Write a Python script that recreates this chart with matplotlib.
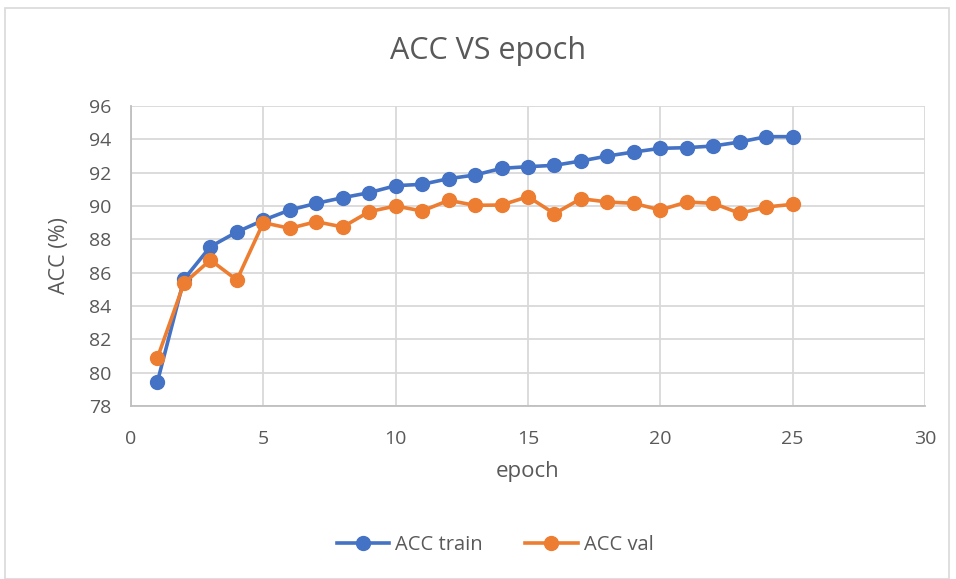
import matplotlib
matplotlib.use("Agg")
import matplotlib.pyplot as plt
from matplotlib.patches import Rectangle

epochs = list(range(1, 26))
acc_train = [79.46, 85.6, 87.56, 88.44, 89.15, 89.76, 90.16, 90.5, 90.8, 91.22,
             91.3, 91.64, 91.86, 92.26, 92.36, 92.44, 92.7, 93.0, 93.24, 93.46,
             93.5, 93.6, 93.84, 94.16, 94.16]
acc_val = [80.9, 85.36, 86.76, 85.56, 89.0, 88.66, 89.06, 88.74, 89.66, 90.0,
           89.7, 90.34, 90.04, 90.06, 90.56, 89.54, 90.44, 90.24, 90.16, 89.76,
           90.24, 90.16, 89.56, 89.94, 90.1]
xticks = [0, 5, 10, 15, 20, 25, 30]
yticks = [78, 80, 82, 84, 86, 88, 90, 92, 94, 96]

plt.rcParams['font.family'] = ['Open Sans', 'DejaVu Sans']
txt = '#595959'
fig = plt.figure(figsize=(9.56, 5.79), dpi=100)
ax = fig.add_axes([131/956, 1-406/579, (925-131)/956, (406-106)/579])

ax.plot(epochs, acc_train, color='#4472C4', lw=2.6, marker='o', ms=10, label='ACC train', zorder=3)
ax.plot(epochs, acc_val, color='#ED7D31', lw=2.6, marker='o', ms=10, label='ACC val', zorder=3)

ax.set_xlim(0, 30)
ax.set_ylim(78, 96)
ax.set_xticks(xticks)
ax.set_yticks(yticks)
ax.grid(True, color='#d9d9d9', lw=1.3)
ax.set_axisbelow(True)
for k, s in ax.spines.items():
    if k in ('left', 'bottom'):
        s.set_color('#bfbfbf')
        s.set_linewidth(1.3)
    else:
        s.set_visible(False)
ax.tick_params(length=0, labelsize=14, labelcolor=txt)
ax.tick_params(axis='x', pad=17)
ax.tick_params(axis='y', pad=14)
ax.set_xlabel('epoch', fontsize=16, color=txt, labelpad=10)
ax.set_ylabel('ACC (%)', fontsize=15.5, color=txt, labelpad=14)
fig.text(0.511, 1-51/579, 'ACC VS epoch', ha='center', va='center', fontsize=22, color=txt)

leg = fig.legend(loc='center', bbox_to_anchor=(0.518, 1-545/579), ncol=2, frameon=False,
                 fontsize=14.5, handlelength=2.6, columnspacing=2.1, handletextpad=0.3)
for t in leg.get_texts():
    t.set_color(txt)

fig.patches.append(Rectangle((5/956, 0), 944/956, 1-8/579, transform=fig.transFigure,
                             fill=False, edgecolor='#d9d9d9', lw=1.2))
fig.savefig('out.png', dpi=100)
